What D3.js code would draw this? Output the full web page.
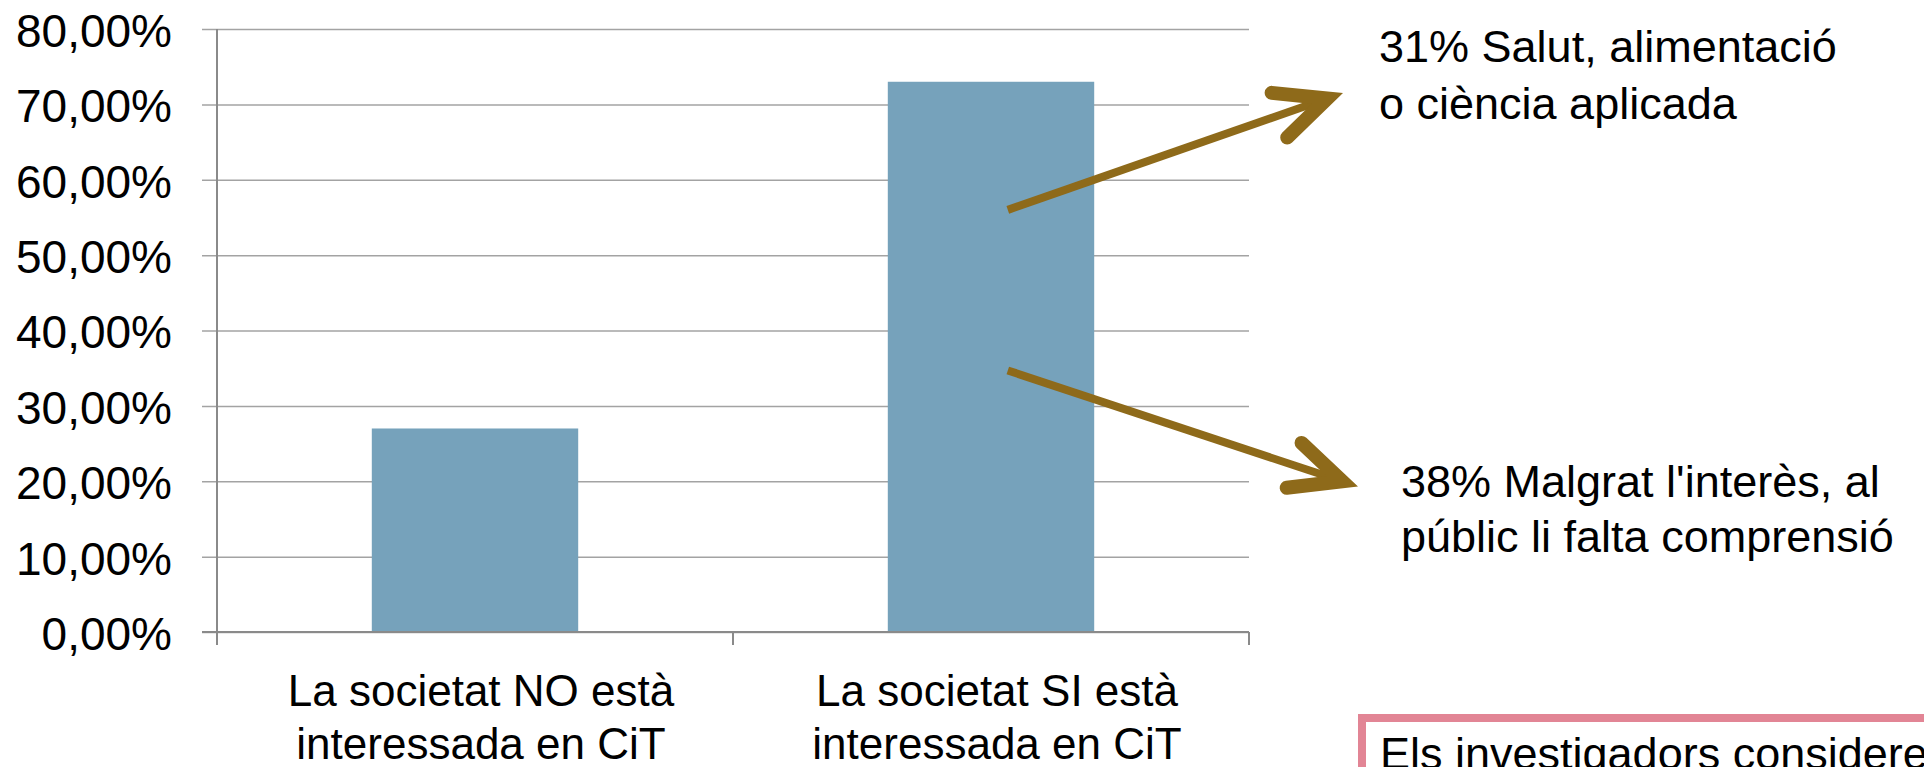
<!DOCTYPE html>
<html>
<head>
<meta charset="utf-8">
<script src="https://cdn.jsdelivr.net/npm/d3@7"></script>
<style>
  html, body { margin: 0; padding: 0; background: #ffffff; overflow: hidden; }
  svg { display: block; }
</style>
</head>
<body>
<script>
// ---- data ----
const categories = [
  ["La societat NO està", "interessada en CiT"],
  ["La societat SI està", "interessada en CiT"]
];
const values = [0.27, 0.73];
const yTicks = [0, 0.1, 0.2, 0.3, 0.4, 0.5, 0.6, 0.7, 0.8];
const annotationLines = [
  ["31% Salut, alimentació", "o ciència aplicada"],
  ["38% Malgrat l'interès, al", "públic li falta comprensió"]
];
// arrow start / end levels (in axis units)
const arrowFrom = [0.56, 0.347];
const arrowTo = [0.715, 0.193];
const boxText = "Els investigadors consideren";

// ---- layout ----
const W = 1924, H = 767;
const plot = { left: 217, right: 1249, top: 29, bottom: 632 };
const FONT = "'Liberation Sans', Arial, sans-serif";

const svg = d3.select("body").append("svg").attr("width", W).attr("height", H);

const catKeys = categories.map(c => c.join(" "));
const x = d3.scaleBand().domain(catKeys).range([plot.left, plot.right])
  .paddingInner(0.6).paddingOuter(0.3);
const y = d3.scaleLinear().domain([0, 0.8]).range([plot.bottom, plot.top]);

const locale = d3.formatLocale({ decimal: ",", thousands: ".", grouping: [3], currency: ["", "€"] });
const fmt = locale.format(".2%");

// gridlines + y ticks
const yAxis = d3.axisLeft(y).tickValues(yTicks).tickFormat(fmt)
  .tickSize(-(plot.right - plot.left)).tickPadding(0);
const gy = svg.append("g").attr("transform", `translate(${plot.left},0)`).call(yAxis);
gy.select(".domain").remove();
gy.selectAll(".tick line")
  .attr("x1", -15)
  .attr("stroke", "#a3a3a3").attr("stroke-width", 1.5);
gy.selectAll(".tick text")
  .attr("x", -45).attr("dy", "0.38em")
  .attr("font-family", FONT).attr("font-size", 46).attr("fill", "#000");

// bars
svg.append("g").selectAll("rect").data(values).join("rect")
  .attr("x", (d, i) => x(catKeys[i]))
  .attr("width", x.bandwidth())
  .attr("y", d => y(d))
  .attr("height", d => y(0) - y(d))
  .attr("fill", "#76a2bb");

// axes lines
svg.append("line").attr("x1", plot.left).attr("x2", plot.left)
  .attr("y1", plot.top).attr("y2", plot.bottom + 1)
  .attr("stroke", "#8a8a8a").attr("stroke-width", 2);
svg.append("line").attr("x1", plot.left - 15).attr("x2", plot.right)
  .attr("y1", plot.bottom).attr("y2", plot.bottom)
  .attr("stroke", "#8a8a8a").attr("stroke-width", 2);
// x ticks at category boundaries
const boundaries = d3.range(catKeys.length + 1).map(i => plot.left + i * x.step());
svg.append("g").selectAll("line").data(boundaries).join("line")
  .attr("x1", d => d).attr("x2", d => d)
  .attr("y1", plot.bottom).attr("y2", plot.bottom + 13)
  .attr("stroke", "#8a8a8a").attr("stroke-width", 2);

// x labels
const xl = svg.append("g").selectAll("text").data(categories).join("text")
  .attr("x", (d, i) => x(catKeys[i]) + x.bandwidth() / 2 + 6)
  .attr("y", 706)
  .attr("text-anchor", "middle")
  .attr("font-family", FONT).attr("font-size", 44).attr("fill", "#000");
xl.each(function (d) {
  const t = d3.select(this);
  d.forEach((line, j) => t.append("tspan")
    .attr("x", t.attr("x")).attr("dy", j === 0 ? 0 : 53).text(line));
});

// arrows
const arrowColor = "#8e6a1a";
const arrowStartX = x(catKeys[1]) + 120;
const arrowEndX = [1343, 1358];
function drawArrow(x0, y0, x1, y1) {
  const dx = x1 - x0, dy = y1 - y0, len = Math.hypot(dx, dy);
  const ux = dx / len, uy = dy / len;
  const half = 25 * Math.PI / 180, armW = 14, armL = 56;
  const back = (armW / 2) / Math.sin(half);
  const vx = x1 - ux * back, vy = y1 - uy * back;
  const a = Math.atan2(-uy, -ux);
  const p1 = [vx + armL * Math.cos(a + half), vy + armL * Math.sin(a + half)];
  const p2 = [vx + armL * Math.cos(a - half), vy + armL * Math.sin(a - half)];
  svg.append("line").attr("x1", x0).attr("y1", y0).attr("x2", vx - ux * 4).attr("y2", vy - uy * 4)
    .attr("stroke", arrowColor).attr("stroke-width", 8);
  svg.append("path")
    .attr("d", d3.line()([p1, [vx, vy], p2]))
    .attr("fill", "none").attr("stroke", arrowColor).attr("stroke-width", armW)
    .attr("stroke-linejoin", "miter").attr("stroke-miterlimit", 10)
    .attr("stroke-linecap", "round");
}
arrowFrom.forEach((v, i) => drawArrow(arrowStartX, y(v), arrowEndX[i], y(arrowTo[i])));

// annotation texts
const annPos = [{ x: 1379, y: 62, lh: 57 }, { x: 1401, y: 497, lh: 55 }];
annotationLines.forEach((lines, i) => {
  const t = svg.append("text").attr("x", annPos[i].x).attr("y", annPos[i].y)
    .attr("font-family", FONT).attr("font-size", 45).attr("fill", "#000");
  lines.forEach((line, j) => t.append("tspan").attr("x", annPos[i].x)
    .attr("dy", j === 0 ? 0 : annPos[i].lh).text(line));
});

// pink box (cut off at bottom-right, as in the reference)
svg.append("rect").attr("x", 1362).attr("y", 718).attr("width", 700).attr("height", 200)
  .attr("fill", "none").attr("stroke", "#e28595").attr("stroke-width", 8);
svg.append("text").attr("x", 1380).attr("y", 769)
  .attr("font-family", FONT).attr("font-size", 45).attr("fill", "#000").text(boxText);
</script>
</body>
</html>
